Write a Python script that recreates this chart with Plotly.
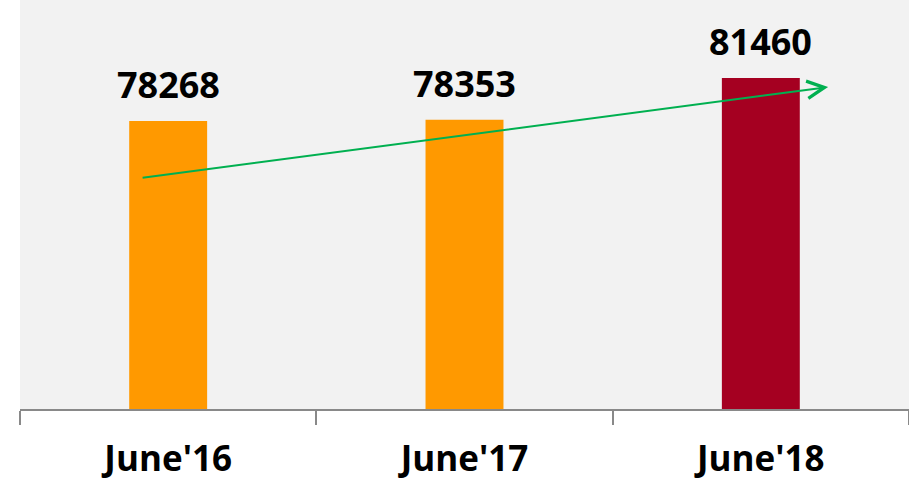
import plotly.graph_objects as go

categories = ["June'16", "June'17", "June'18"]
values = [78268, 78353, 81460]
bar_colors = ["#FF9900", "#FF9900", "#A50021"]

FONT = "Open Sans"

fig = go.Figure()
fig.add_trace(go.Bar(
    x=categories, y=values,
    marker=dict(color=bar_colors, line=dict(width=0)),
    width=0.263,
    hoverinfo="skip",
))

for c, v in zip(categories, values):
    fig.add_annotation(
        x=c, y=v, xref="x", yref="y", text=f"<b>{v}</b>",
        showarrow=False, yanchor="bottom", yshift=10,
        font=dict(family=FONT, size=36, color="#000000"),
    )

# trend arrow
fig.add_annotation(
    x=2.227, y=80792, xref="x", yref="y",
    ax=-687, ay=91, axref="pixel", ayref="pixel",
    showarrow=True, arrowhead=5, arrowsize=1.7, arrowwidth=2,
    arrowcolor="#00B050", standoff=0, startstandoff=0, text="",
)

fig.update_layout(
    width=909, height=483,
    margin=dict(l=20, r=0, t=0, b=74, autoexpand=False),
    paper_bgcolor="#FFFFFF",
    plot_bgcolor="#F2F2F2",
    showlegend=False,
    xaxis=dict(
        type="category", automargin=False,
        showline=True, linecolor="#898989", linewidth=2,
        ticks="outside", ticklen=14, tickcolor="#898989", tickwidth=2,
        tickson="boundaries",
        tickfont=dict(family=FONT, size=35, color="#000000"),
        ticklabelstandoff=18,
        showgrid=False, zeroline=False,
        tickprefix="<b>", ticksuffix="</b>",
    ),
    yaxis=dict(
        range=[56890, 87250], automargin=False,
        visible=False, showgrid=False, zeroline=False,
    ),
)

fig.write_html(
    "out.html",
    config={"displayModeBar": False},
    post_script="document.body.style.margin='0';document.body.style.overflow='hidden';",
)
